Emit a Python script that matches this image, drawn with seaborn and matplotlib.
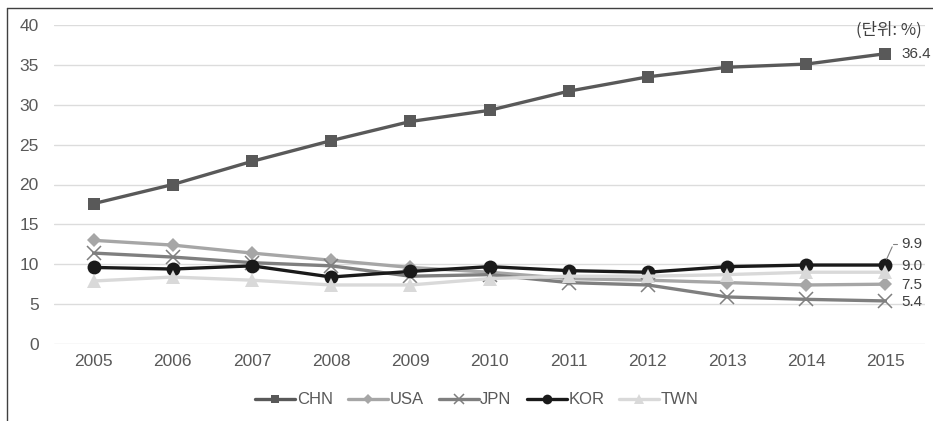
import matplotlib
matplotlib.use("Agg")
import matplotlib.pyplot as plt
from matplotlib.lines import Line2D
import seaborn as sns
import pandas as pd

years = [2005, 2006, 2007, 2008, 2009, 2010, 2011, 2012, 2013, 2014, 2015]
chn = [17.6, 20.0, 22.9, 25.5, 27.9, 29.3, 31.7, 33.5, 34.7, 35.1, 36.4]
usa = [13.0, 12.4, 11.4, 10.5, 9.6, 9.0, 8.2, 8.0, 7.7, 7.4, 7.5]
jpn = [11.4, 10.9, 10.2, 9.8, 8.5, 8.7, 7.7, 7.4, 5.9, 5.6, 5.4]
kor = [9.6, 9.4, 9.8, 8.4, 9.1, 9.7, 9.2, 9.0, 9.7, 9.9, 9.9]
twn = [7.9, 8.4, 8.0, 7.4, 7.4, 8.2, 8.5, 8.5, 8.7, 9.0, 9.0]
series_names = ["CHN", "USA", "JPN", "KOR", "TWN"]
end_labels = ["36.4", "9.9", "9.0", "7.5", "5.4"]
unit_label = "(단위: %)"

sns.set_theme(style="white")
plt.rcParams["font.family"] = ["Liberation Sans", "Noto Sans CJK KR", "DejaVu Sans"]

df = pd.DataFrame({"year": years, "CHN": chn, "USA": usa, "JPN": jpn, "KOR": kor, "TWN": twn})
long = df.melt(id_vars="year", var_name="country", value_name="value")

styles = {
    "CHN": dict(color="#595959", marker="s", ms=9, mew=0),
    "USA": dict(color="#a6a6a6", marker="D", ms=7, mew=0),
    "JPN": dict(color="#7f7f7f", marker="x", ms=10, mew=1.1),
    "KOR": dict(color="#1a1a1a", marker="o", ms=10, mew=0),
    "TWN": dict(color="#d9d9d9", marker="^", ms=10, mew=0),
}

fig = plt.figure(figsize=(9.33, 4.21), dpi=100)
ax = fig.add_axes([54 / 933, 77 / 421, (925 - 54) / 933, (396 - 77) / 421])

for name in series_names:
    st = styles[name]
    sub = long[long["country"] == name]
    sns.lineplot(data=sub, x="year", y="value", ax=ax, color=st["color"], linewidth=2.4,
                 marker=st["marker"], markersize=st["ms"], markeredgewidth=st["mew"],
                 markeredgecolor=st["color"], label=name, legend=False)

ax.set_xlim(2004.5, 2015.5)
ax.set_ylim(0, 40)
ax.set_yticks(range(0, 41, 5))
ax.set_xticks(years)
ax.set_xlabel("")
ax.set_ylabel("")
ax.grid(axis="y", color="#dcdcdc", linewidth=1)
ax.set_axisbelow(True)
for s in ax.spines.values():
    s.set_visible(False)
ax.tick_params(axis="both", length=0, labelsize=12.5, labelcolor="#595959")
ax.tick_params(axis="x", pad=7)
ax.tick_params(axis="y", pad=11)

# end labels
lab_col = "#404040"
fs = 11
dx = 16
ax.annotate(end_labels[0], xy=(2015, chn[-1]), xytext=(dx, 0), textcoords="offset pixels",
            va="center", ha="left", fontsize=fs, color=lab_col)
ax.annotate(end_labels[1], xy=(2015, kor[-1]), xytext=(dx, 21), textcoords="offset pixels",
            va="center", ha="left", fontsize=fs, color=lab_col)
ax.annotate("", xy=(2015, kor[-1] + 0.4), xytext=(2015.1, kor[-1] + 2.6),
            arrowprops=dict(arrowstyle="-", color="#808080", lw=0.8))
ax.plot([2015.1, 2015.15], [kor[-1] + 2.6, kor[-1] + 2.6], color="#808080", lw=0.8)
ax.annotate(end_labels[2], xy=(2015, twn[-1]), xytext=(dx, 6), textcoords="offset pixels",
            va="center", ha="left", fontsize=fs, color=lab_col)
ax.annotate(end_labels[3], xy=(2015, usa[-1]), xytext=(dx, -1), textcoords="offset pixels",
            va="center", ha="left", fontsize=fs, color=lab_col)
ax.annotate(end_labels[4], xy=(2015, jpn[-1]), xytext=(dx, -1), textcoords="offset pixels",
            va="center", ha="left", fontsize=fs, color=lab_col)

fig.text(922 / 933, 1 - 30 / 421, unit_label, ha="right", va="center", fontsize=12,
         color=lab_col, family=["Noto Sans CJK KR", "DejaVu Sans"])

# legend
handles = []
for name in series_names:
    st = styles[name]
    handles.append(Line2D([0], [0], color=st["color"], lw=2.4, marker=st["marker"],
                          markersize=st["ms"] * 0.7, markeredgewidth=st["mew"],
                          markeredgecolor=st["color"]))
leg = fig.legend(handles, series_names, loc="center", bbox_to_anchor=(477 / 933, 1 - 400 / 421),
                 ncol=5, frameon=False, fontsize=12, handlelength=2.4, handletextpad=0.1,
                 columnspacing=0.9, labelcolor="#595959")

# outer frame (left and top edges)
fig.add_artist(Line2D([7.5 / 933, 7.5 / 933], [0, 1 - 7.5 / 421], color="#404040", lw=1,
                      transform=fig.transFigure))
fig.add_artist(Line2D([7.5 / 933, 1], [1 - 7.5 / 421, 1 - 7.5 / 421], color="#404040", lw=1,
                      transform=fig.transFigure))

fig.savefig("out.png", dpi=100)
